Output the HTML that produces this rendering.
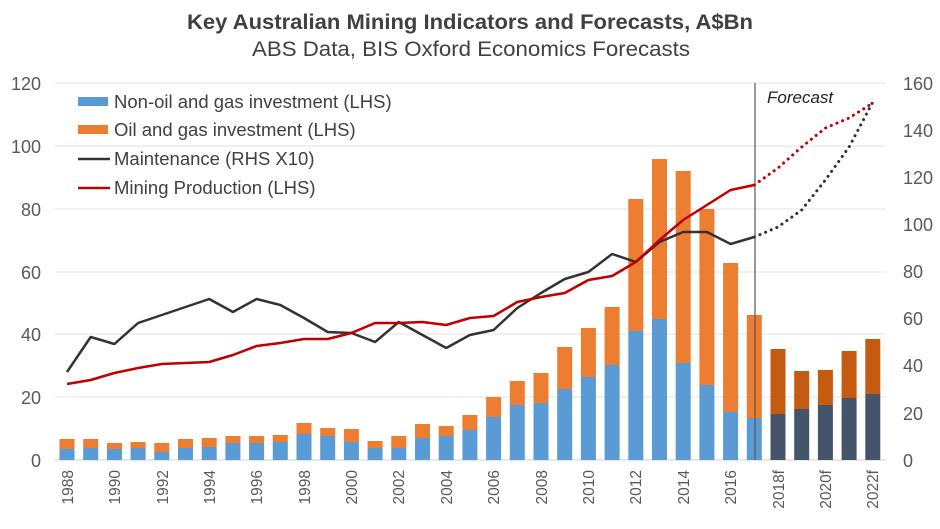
<!DOCTYPE html>
<html><head><meta charset="utf-8"><style>
body{margin:0;background:#fff;}
svg{display:block;font-family:"Liberation Sans",Arial,sans-serif;}
</style></head><body>
<svg id="c" width="940" height="529" viewBox="0 0 940 529">
<text x="470" y="29" text-anchor="middle" font-size="21" font-weight="bold" fill="#404040" textLength="566" lengthAdjust="spacingAndGlyphs">Key Australian Mining Indicators and Forecasts, A$Bn</text>
<text x="471" y="56" text-anchor="middle" font-size="21" fill="#404040" textLength="438" lengthAdjust="spacingAndGlyphs">ABS Data, BIS Oxford Economics Forecasts</text>
<g stroke="#e3e3e3" stroke-width="1">
<line x1="55" x2="886" y1="83" y2="83"/><line x1="55" x2="886" y1="146" y2="146"/><line x1="55" x2="886" y1="209" y2="209"/><line x1="55" x2="886" y1="272" y2="272"/><line x1="55" x2="886" y1="334" y2="334"/><line x1="55" x2="886" y1="397" y2="397"/><line x1="55" x2="886" y1="460" y2="460" stroke="#d0d0d0"/>
</g>
<g font-size="18" fill="#595959" text-anchor="end">
<text x="41" y="90">120</text><text x="41" y="153">100</text><text x="41" y="216">80</text><text x="41" y="279">60</text><text x="41" y="341">40</text><text x="41" y="404">20</text><text x="41" y="467">0</text>
</g>
<g font-size="18" fill="#595959" text-anchor="start">
<text x="903" y="90">160</text><text x="903" y="137">140</text><text x="903" y="184">120</text><text x="903" y="231">100</text><text x="903" y="278">80</text><text x="903" y="325">60</text><text x="903" y="372">40</text><text x="903" y="420">20</text><text x="903" y="467">0</text>
</g>
<g id="bars"></g>
<line x1="755" y1="83" x2="755" y2="460" stroke="#555" stroke-width="1.2"/>
<text x="767" y="103" font-size="17" font-style="italic" fill="#222">Forecast</text>
<g id="lines"></g>
<g font-size="15.5" fill="#595959" text-anchor="end">
<text transform="translate(73,470) rotate(-90)">1988</text>
<text transform="translate(120,470) rotate(-90)">1990</text>
<text transform="translate(168,470) rotate(-90)">1992</text>
<text transform="translate(215,470) rotate(-90)">1994</text>
<text transform="translate(262,470) rotate(-90)">1996</text>
<text transform="translate(310,470) rotate(-90)">1998</text>
<text transform="translate(357,470) rotate(-90)">2000</text>
<text transform="translate(404,470) rotate(-90)">2002</text>
<text transform="translate(452,470) rotate(-90)">2004</text>
<text transform="translate(499,470) rotate(-90)">2006</text>
<text transform="translate(547,470) rotate(-90)">2008</text>
<text transform="translate(594,470) rotate(-90)">2010</text>
<text transform="translate(641,470) rotate(-90)">2012</text>
<text transform="translate(689,470) rotate(-90)">2014</text>
<text transform="translate(736,470) rotate(-90)">2016</text>
<text transform="translate(784,470) rotate(-90)">2018f</text>
<text transform="translate(831,470) rotate(-90)">2020f</text>
<text transform="translate(878,470) rotate(-90)">2022f</text>
</g>
<rect x="78" y="97" width="30" height="9" fill="#5b9bd5"/>
<rect x="78" y="125" width="30" height="9" fill="#ed7d31"/>
<line x1="78" x2="110" y1="159" y2="159" stroke="#333" stroke-width="2.5"/>
<line x1="78" x2="110" y1="188" y2="188" stroke="#c00000" stroke-width="2.5"/>
<g font-size="18.5" fill="#404040">
<text x="114" y="108">Non-oil and gas investment (LHS)</text>
<text x="114" y="136">Oil and gas investment (LHS)</text>
<text x="114" y="165">Maintenance (RHS X10)</text>
<text x="114" y="194">Mining Production (LHS)</text>
</g>
</svg>
<script>
var ns="http://www.w3.org/2000/svg";
function X(i){return 67+i*23.7;}
var blue=[449,448,449,448,452,448,447,443,443,442,434,436,442,448,448,438,436,430,417,405,403,389,377,365,331,319,363,385,412,418,414,409,405,398,394];
var tot=[439,439,443,442,443,439,438,436,436,435,423,428,429,441,436,424,426,415,397,381,373,347,328,307,199,159,171,209,263,315,349,371,370,351,339];
var B=document.getElementById("bars");
function r(x,y,h,f){var e=document.createElementNS(ns,"rect");e.setAttribute("x",x);e.setAttribute("y",y);e.setAttribute("width",15);e.setAttribute("height",h);e.setAttribute("fill",f);B.appendChild(e);}
for(var i=0;i<35;i++){var f=i>=30;var x=X(i)-7.5;r(x,tot[i],blue[i]-tot[i],f?"#c55a11":"#ed7d31");r(x,blue[i],460-blue[i],f?"#44546a":"#5b9bd5");}
var red=[384,380,373,368,364,363,362,355,346,343,339,339,333,323,323,322,325,318,316,302,297,293,280,276,262,240,220,205,190,185,168,147,128,118,103];
var blk=[372,337,344,323,315,307,299,312,299,305,318,332,333,342,322,335,348,335,330,308,293,279,272,254,262,242,232,232,244,237,227,210,180,147,102];
var L=document.getElementById("lines");
function pl(a,s,e,c,d){var p=[];for(var i=s;i<=e;i++)p.push(X(i)+","+a[i]);var el=document.createElementNS(ns,"polyline");el.setAttribute("points",p.join(" "));el.setAttribute("fill","none");el.setAttribute("stroke",c);el.setAttribute("stroke-width",d?3:2.5);el.setAttribute("stroke-linejoin","round");if(d){el.setAttribute("stroke-dasharray","0.1 6");el.setAttribute("stroke-linecap","round");}L.appendChild(el);}
pl(blk,0,29,"#333",0);pl(blk,29,34,"#333",1);
pl(red,0,29,"#c00000",0);pl(red,29,34,"#c00000",1);
</script>
</body></html>
